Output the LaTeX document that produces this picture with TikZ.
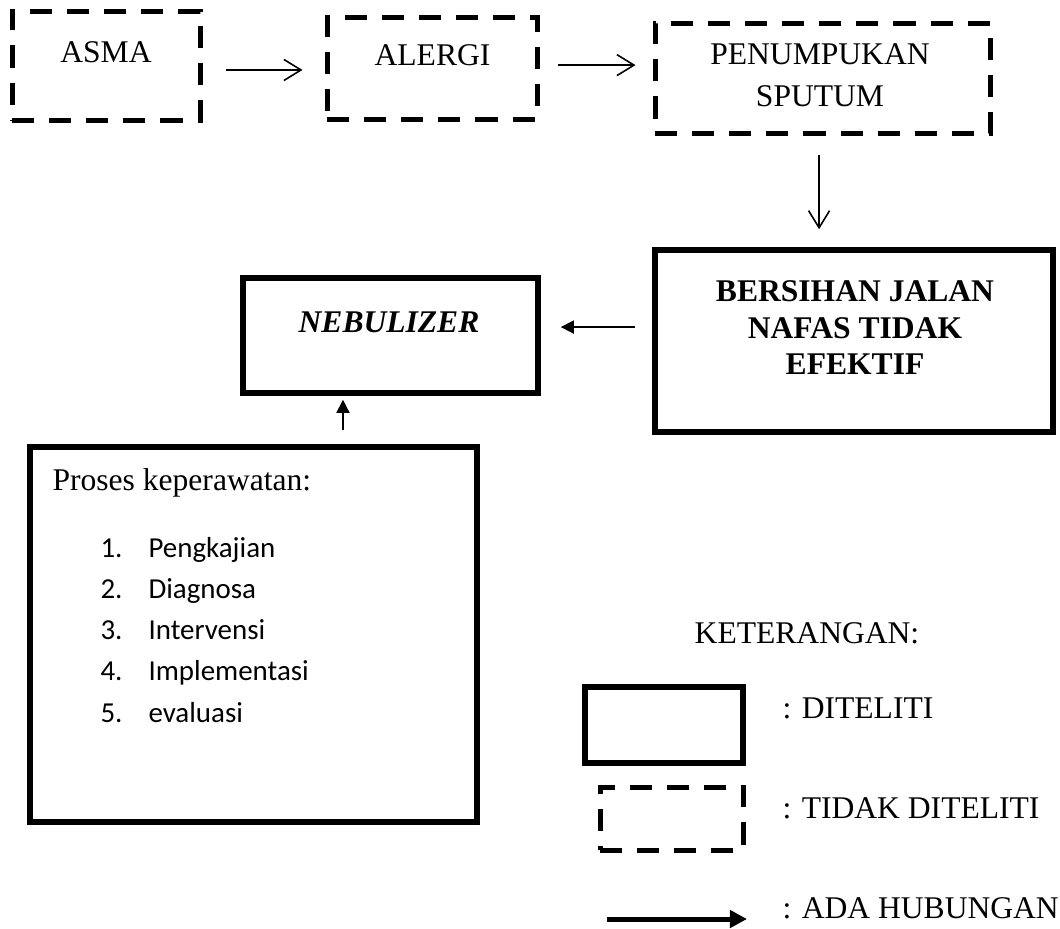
\documentclass[tikz,border=0pt]{standalone}
\usepackage{fontspec}
\setmainfont{Liberation Serif}
\newfontfamily\listfont{Carlito}
\usetikzlibrary{arrows.meta}
\newcommand{\px}{0.38pt}
\tikzset{
    lbl/.style={font=\fontsize{12}{14}\selectfont, inner sep=0},
    dbox/.style={draw, line width=1.9pt, dash pattern=on 8.4pt off 5.7pt, inner sep=0},
    sbox/.style={draw, line width=2.1pt, inner sep=0},
    thinarrow/.style={line width=0.6pt, -{Straight Barb[length=6.5pt,width=8pt,line width=0.6pt]}},
    fillarrow/.style={line width=0.6pt, -{Triangle[length=5pt,width=5pt]}},
    keyarrow/.style={line width=1.9pt, -{Triangle[length=6.5pt,width=6.5pt]}}
}
\begin{document}
\begin{tikzpicture}[x=\px, y=-\px]
        \useasboundingbox (0,0) rectangle (1060,928);
        
        % kotak alur
        \node[dbox, minimum width=188*\px, minimum height=109*\px] (asma) at (106,65.5) {};
        \node[dbox, minimum width=210*\px, minimum height=102*\px] (alergi) at (432,68) {};
        \node[dbox, minimum width=335*\px, minimum height=110*\px] (sputum) at (822.5,78) {};
        \node[sbox, minimum width=398*\px, minimum height=182*\px] (bersihan) at (854,341) {};
        \node[sbox, minimum width=295*\px, minimum height=115*\px] (nebulizer) at (390.5,335.5) {};
        \node[sbox, minimum width=447*\px, minimum height=375*\px] (proses) at (253.5,634.5) {};
        
        \node[lbl, anchor=base] (asmatxt) at (106,62) {ASMA};
        \node[lbl, anchor=base] (alergitxt) at (432.5,65) {ALERGI};
        \node[lbl, anchor=north, align=center, font=\fontsize{12}{16}\selectfont] (sputumtxt) at (820,43) {PENUMPUKAN\\SPUTUM};
        \node[lbl, anchor=north, align=center, font=\fontsize{12}{13.9}\selectfont\bfseries] (bersihantxt) at (855,280) {BERSIHAN JALAN\\NAFAS TIDAK\\EFEKTIF};
        \node[lbl, anchor=base, font=\fontsize{12}{14}\selectfont\bfseries\itshape] (nebulizertxt) at (389,332) {NEBULIZER};
        \node[lbl, anchor=base west] (prosestxt) at (52,490) {Proses keperawatan:};
        
        \foreach \n/\langkah in {1/Pengkajian,2/Diagnosa,3/Intervensi,4/Implementasi,5/evaluasi}{
            \node[inner sep=0, anchor=base west, font=\listfont\fontsize{11}{13}\selectfont] (num\n) at (100,{557+41.25*(\n-1)}) {\n.};
            \node[inner sep=0, anchor=base west, font=\listfont\fontsize{11}{13}\selectfont] (langkah\n) at (148,{557+41.25*(\n-1)}) {\langkah};
        }
        
        % panah
        \draw[thinarrow, shorten <=23*\px, shorten >=22*\px] ([yshift=-1.7pt]asma.east) -- ([yshift=-1.7pt]asma.east -| alergi.west);
        \draw[thinarrow, shorten <=18*\px, shorten >=17*\px] ([yshift=1.1pt]alergi.east) -- ([yshift=1.1pt]alergi.east -| sputum.west);
        \draw[thinarrow, shorten <=19*\px, shorten >=18*\px] ([xshift=-1.3pt]sputum.south) -- ([xshift=-1.3pt]sputum.south |- bersihan.north);
        \draw[fillarrow, shorten <=17*\px, shorten >=20*\px] ([yshift=5.3pt]bersihan.west) -- ([yshift=5.3pt]bersihan.west -| nebulizer.east);
        \draw[fillarrow, shorten <=14*\px, shorten >=4*\px] ([xshift=34pt]proses.north) -- ([xshift=34pt]proses.north |- nebulizer.south);
        
        % keterangan
        \node[lbl, anchor=base] (keterangan) at (807,643) {KETERANGAN:};
        \node[sbox, minimum width=158*\px, minimum height=76*\px] (keysolid) at (664,725) {};
        \node[dbox, minimum width=143*\px, minimum height=63*\px] (keydash) at (671.5,818.5) {};
        \coordinate (keystart) at (607,919);
        \coordinate (keyend) at (747,919);
        \draw[keyarrow] (keystart) -- (keyend);
        \node[lbl, anchor=base west] (keysolidtxt) at (782,718) {: DITELITI};
        \node[lbl, anchor=base west] (keydashtxt) at (782,818) {: TIDAK DITELITI};
        \node[lbl, anchor=base west] (keyarrowtxt) at (782,918) {: ADA HUBUNGAN};
        
    \end{tikzpicture}
\end{document}
